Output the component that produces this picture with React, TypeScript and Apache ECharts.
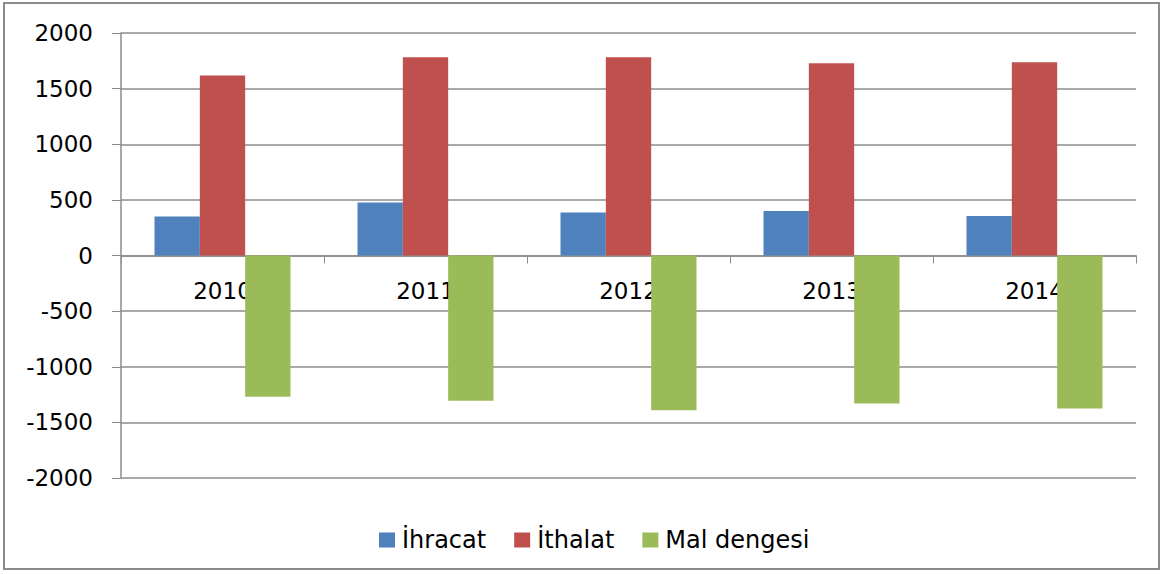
import React, { useEffect, useRef } from "react";
import * as echarts from "echarts";

const years = ["2010", "2011", "2012", "2013", "2014"];
const ihracat = [350, 477, 387, 400, 355];
const ithalat = [1619, 1781, 1781, 1727, 1736];
const malDengesi = [-1270, -1305, -1392, -1330, -1375];
const seriesNames = ["İhracat", "İthalat", "Mal dengesi"];
const colors = ["#4F81BD", "#C0504D", "#9BBB59"];

export default function App() {
  const ref = useRef<HTMLDivElement>(null);
  useEffect(() => {
    document.body.style.margin = "0";
    const chart = echarts.init(ref.current!, undefined, { renderer: "svg" });
    const font = "DejaVu Sans";
    const datasets = [ihracat, ithalat, malDengesi];
    chart.setOption({
      animation: false,
      backgroundColor: "#ffffff",
      graphic: [
        {
          type: "rect",
          shape: { x: 4, y: 3, width: 1155, height: 566 },
          style: { fill: "none", stroke: "#8c8c8c", lineWidth: 2 },
          silent: true,
        },
      ],
      grid: { left: 121, right: 31, top: 33, bottom: 96 },
      legend: {
        top: 523,
        left: 374,
        itemWidth: 16,
        itemHeight: 15,
        itemGap: 28,
        icon: "rect",
        textStyle: { fontFamily: font, fontSize: 24, color: "#000", padding: [0, 0, 0, 2] },
        data: seriesNames,
      },
      xAxis: {
        type: "category",
        data: years,
        offset: -222.5,
        axisLine: { onZero: false, lineStyle: { color: "#8c8c8c", width: 1.5 } },
        axisTick: { show: true, length: 8, lineStyle: { color: "#8c8c8c" } },
        axisLabel: { margin: 24, fontFamily: font, fontSize: 23, color: "#000" },
      },
      yAxis: {
        type: "value",
        min: -2000,
        max: 2000,
        interval: 500,
        axisLine: { show: true, lineStyle: { color: "#8c8c8c", width: 1.5 } },
        axisTick: { show: true, length: 9, lineStyle: { color: "#8c8c8c" } },
        splitLine: { lineStyle: { color: "#8c8c8c", width: 1.5 } },
        axisLabel: {
          margin: 28,
          fontFamily: font,
          fontSize: 23,
          color: "#000",
          formatter: (v: number) => String(v),
        },
      },
      series: seriesNames.map((name, i) => ({
        name,
        type: "bar",
        data: datasets[i],
        barGap: "0%",
        barCategoryGap: "33%",
        itemStyle: { color: colors[i] },
      })),
    });
    return () => chart.dispose();
  }, []);
  return <div ref={ref} style={{ width: 1167, height: 574 }} />;
}
